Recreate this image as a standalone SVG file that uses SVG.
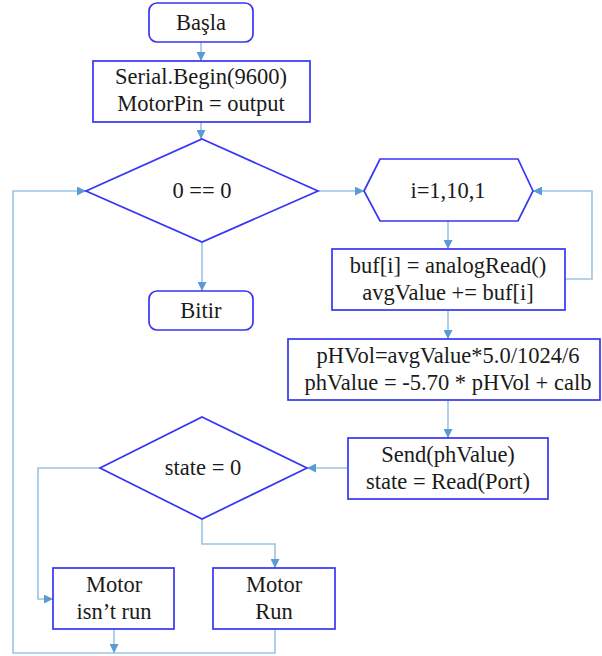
<svg xmlns="http://www.w3.org/2000/svg" width="602" height="656" viewBox="0 0 602 656">
<defs>
<marker id="arr" viewBox="0 0 10 10" refX="10" refY="5" markerWidth="9" markerHeight="9" markerUnits="userSpaceOnUse" orient="auto">
<path d="M0,0 L10,5 L0,10 z" fill="#5B9BD5"/>
</marker>
</defs>
<style>
.n{fill:#fff;stroke:#3535F5;stroke-width:1.7}
.t{font-size:22.5px;fill:#1a1a1a;text-anchor:middle}
.c{fill:none;stroke:#9DC3E6;stroke-width:1.6}
.a{marker-end:url(#arr)}
</style>
<rect width="602" height="656" fill="#fff"/>
<g id="connectors">
<path class="c a" d="M201,42 V61"/>
<path class="c a" d="M201,122 V139"/>
<path class="c a" d="M275,629 V653 H13 V191 H86"/>
<path class="c a" d="M114,629 V653"/>
<path class="c a" d="M318,191 H364"/>
<path class="c a" d="M202,242 V291"/>
<path class="c a" d="M448,221 V249"/>
<path class="c a" d="M565,279 H592 V191 H533"/>
<path class="c a" d="M448,310 V339"/>
<path class="c a" d="M448,400 V438"/>
<path class="c a" d="M348,468 H307"/>
<path class="c a" d="M100,468 H38 V599 H53"/>
<path class="c a" d="M202,519 V544 H275 V568"/>
</g>
<g id="nodes" font-family="Liberation Serif, Times New Roman, serif">
<g id="start">
<rect class="n" x="149" y="3" width="104" height="39" rx="8"/>
<text class="t" x="201" y="30">Başla</text>
</g>
<g id="init">
<rect class="n" x="93" y="61" width="217" height="61"/>
<text class="t" x="201" y="84">Serial.Begin(9600)</text>
<text class="t" x="201" y="111">MotorPin = output</text>
</g>
<g id="loopcond">
<polygon class="n" points="202,139 318,191 202,242 86,191"/>
<text class="t" x="202" y="198">0 == 0</text>
</g>
<g id="end">
<rect class="n" x="149" y="291" width="104" height="39" rx="8"/>
<text class="t" x="201" y="318">Bitir</text>
</g>
<g id="forloop">
<polygon class="n" points="364,191 380,159 518,159 533,191 518,221 380,221"/>
<text class="t" x="448" y="198">i=1,10,1</text>
</g>
<g id="read">
<rect class="n" x="332" y="249" width="233" height="61"/>
<text class="t" x="448" y="273">buf[i] = analogRead()</text>
<text class="t" x="448" y="300">avgValue += buf[i]</text>
</g>
<g id="calc">
<rect class="n" x="288" y="339" width="312" height="61"/>
<text class="t" x="448" y="363">pHVol=avgValue*5.0/1024/6</text>
<text class="t" x="448" y="390">phValue = -5.70 * pHVol + calb</text>
</g>
<g id="send">
<rect class="n" x="348" y="438" width="200" height="61"/>
<text class="t" x="448" y="462">Send(phValue)</text>
<text class="t" x="448" y="489">state = Read(Port)</text>
</g>
<g id="statecond">
<polygon class="n" points="202,417 307,468 202,519 100,468"/>
<text class="t" x="203" y="475">state = 0</text>
</g>
<g id="motoroff">
<rect class="n" x="53" y="568" width="121" height="61"/>
<text class="t" x="114" y="592">Motor</text>
<text class="t" x="114" y="619">isn’t run</text>
</g>
<g id="motoron">
<rect class="n" x="213" y="568" width="122" height="61"/>
<text class="t" x="274" y="592">Motor</text>
<text class="t" x="274" y="619">Run</text>
</g>
</g>
</svg>
